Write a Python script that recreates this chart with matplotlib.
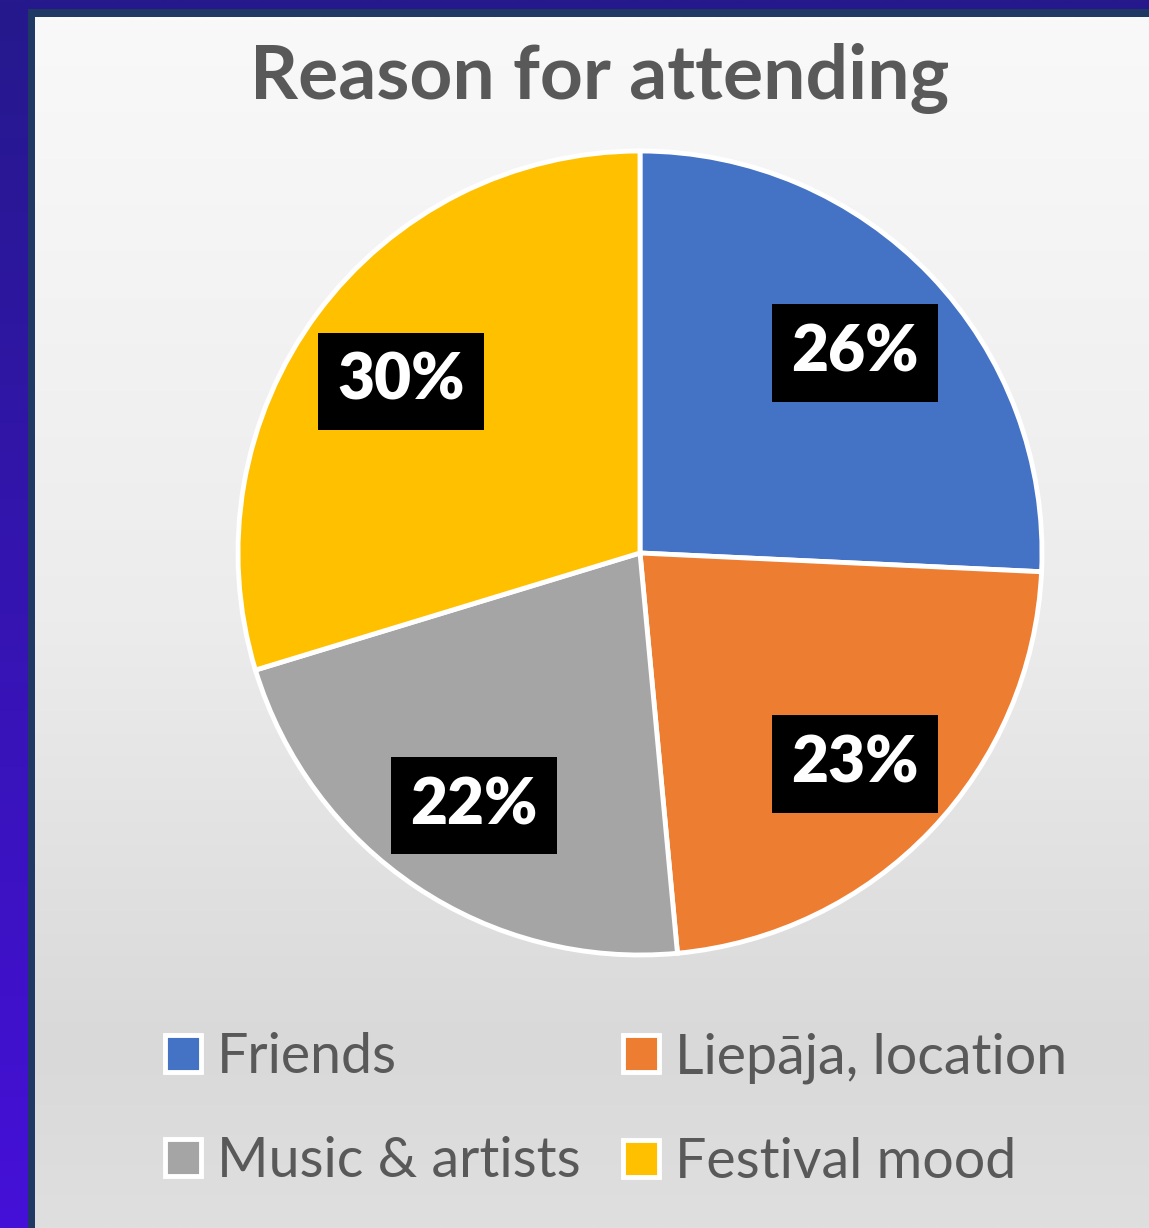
import numpy as np
import matplotlib
matplotlib.use("Agg")
import matplotlib.pyplot as plt
from matplotlib.patches import Rectangle
from matplotlib.colors import to_rgb

# ---- data ----
title = "Reason for attending"
categories = ["Friends", "Liepāja, location", "Music & artists", "Festival mood"]
values = [26, 23, 22, 30]
colors = ["#4472C4", "#ED7D31", "#A5A5A5", "#FFC000"]

W, H = 1149, 1228
DPI = 100
plt.rcParams['font.family'] = ['Lato', 'DejaVu Sans']

fig = plt.figure(figsize=(W / DPI, H / DPI), dpi=DPI)

# ---- background ----
bg = fig.add_axes([0, 0, 1, 1], zorder=0)
bg.set_xlim(0, W)
bg.set_ylim(H, 0)
bg.axis('off')

def vgrad(stops, n=256):
    ys = np.linspace(0, 1, n)
    pos = [s[0] for s in stops]
    cols = np.array([to_rgb(s[1]) for s in stops])
    out = np.stack([np.interp(ys, pos, cols[:, i]) for i in range(3)], axis=-1)
    return out[:, None, :]

bg.imshow(vgrad([(0, "#25198C"), (1, "#4510D8")]), extent=[0, W, H, 0],
          aspect='auto', interpolation='bilinear', zorder=0)
bg.add_patch(Rectangle((28, 9), W, H, facecolor="#1F3864", edgecolor='none', zorder=1))
bg.imshow(vgrad([(0, "#F9F9F9"), (0.5, "#ECECEC"), (0.85, "#D9D9D9"), (1, "#DFDFDF")]),
          extent=[35, W, H, 17], aspect='auto', interpolation='bilinear', zorder=2)

# ---- pie ----
cx, cy, r = 640, 553, 402
ax = fig.add_axes([(cx - r) / W, (H - cy - r) / H, 2 * r / W, 2 * r / H], zorder=2)
ax.set_facecolor('none')
wedges, texts, autotexts = ax.pie(
    values, colors=colors, startangle=90, counterclock=False, radius=1.0,
    autopct=lambda p: f"{p * sum(values) / 100:.0f}%", pctdistance=0.74,
    wedgeprops=dict(edgecolor='white', linewidth=3.5),
    textprops=dict(color='white', fontsize=46, fontweight='heavy'))
for t in autotexts:
    t.set_va('center_baseline')
    t.set_bbox(dict(boxstyle='square,pad=0.3', facecolor='black', edgecolor='none'))
ax.set_xlim(-1.0, 1.0)
ax.set_ylim(-1.0, 1.0)
ax.set_aspect('equal')

# ---- title ----
fig.text(600 / W, 1 - 78 / H, title, ha='center', va='center', fontsize=54,
         fontweight='bold', color='#595959')

# ---- legend (row-wise order, like the reference) ----
ncol = 2
order = [i for c in range(ncol) for i in range(c, len(categories), ncol)]
leg = fig.legend([wedges[i] for i in order], [categories[i] for i in order],
                 loc='center', bbox_to_anchor=(616 / W, 1 - 1110 / H),
                 ncol=ncol, frameon=False, fontsize=40, handlelength=0.65, handleheight=0.65,
                 handletextpad=0.3, columnspacing=0.75, labelspacing=0.95,
                 labelcolor='#595959')

fig.savefig("out.png", dpi=DPI)
